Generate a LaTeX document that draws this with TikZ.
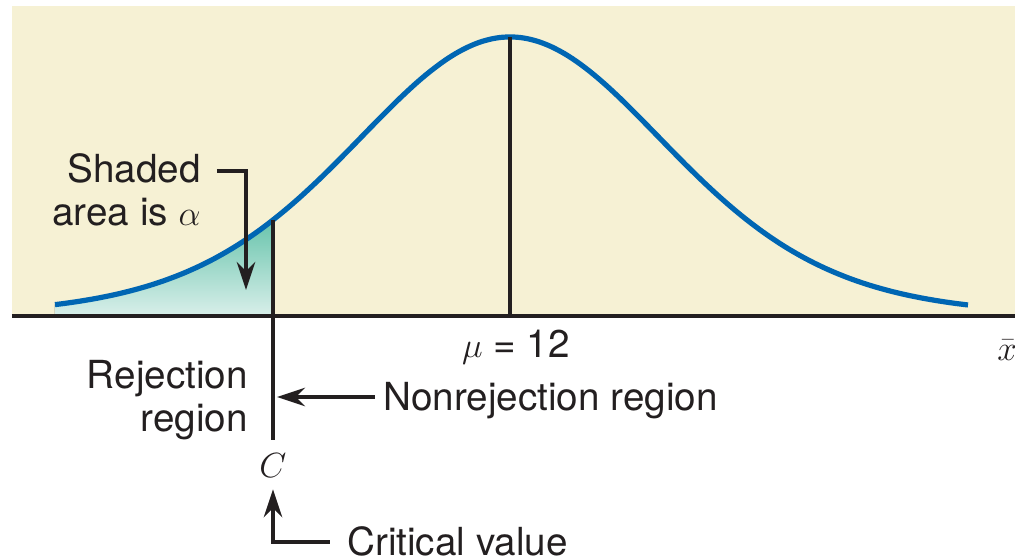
\documentclass[tikz,border=0pt]{standalone}
\usepackage{fontspec}
\setmainfont{TeX Gyre Heros}
\usetikzlibrary{arrows.meta}
\definecolor{paper}{RGB}{246,241,212}
\definecolor{curveblue}{RGB}{0,102,179}
\definecolor{tealtop}{RGB}{104,196,172}
\definecolor{tealbot}{RGB}{217,239,234}
\definecolor{ink}{RGB}{35,31,32}
\begin{document}
\begin{tikzpicture}[
  lbl/.style={font=\fontsize{27.5}{30.5}\selectfont, inner sep=0pt, text=ink},
  tag/.style={lbl, text height=19.7pt, text depth=0pt},
  arr/.style={-{Stealth[length=0.7cm, width=0.46cm]}, line width=2.4pt, draw=ink},
  declare function={dens(\x)=6.975*(1+\x*\x/164)^(-5.5);}
]
\useasboundingbox (-12.75,-6.075) rectangle (12.625,7.9);
\fill[paper] (-12.45,0) rectangle (12.625,7.75);

% left tail (rejection area)
\fill[top color=tealtop, bottom color=tealbot] (-11.375,0) -- plot[domain=-11.375:-5.925, samples=60] (\x,{dens(\x)}) -- (-5.925,0) -- cycle;
\draw[curveblue, line width=3.7pt] plot[domain=-11.375:11.45, samples=150, smooth] (\x,{dens(\x)});

\coordinate (peak) at (0,6.975);
\coordinate (cut) at (-5.925,{dens(-5.925)});
\coordinate (bend) at (-6.6,3.625);
\coordinate (tip) at (-6.6,0.65);

\draw[ink, line width=3.1pt] (-12.45,0) -- (12.625,0);
\draw[ink, line width=2.4pt] (0,0) -- (peak);

\node[lbl, align=right, anchor=east, inner xsep=0.4cm] (shd) at (-7.325,3.16) {Shaded\\area is $\alpha$};
\node[tag, anchor=base] (mu) at (0.15,-1.05) {$\mu$ = 12};
\node[tag, anchor=base west] (xbar) at (12.175,-1.1) {$\bar{x}$};
\node[lbl, align=right, anchor=east] (rej) at (-6.55,-2.1) {Rejection\\region};
\node[tag, anchor=west, inner xsep=0.2cm] (non) at (-3.375,-2.025) {Nonrejection region};
\node[lbl, anchor=base, text height=0.625cm, text depth=0pt, inner sep=0.3cm] (cval) at (-5.925,-4.025) {$C$};
\node[tag, anchor=west, inner xsep=0.425cm] (crit) at (-4.5,-5.65) {Critical value};

\draw[ink, line width=2.4pt] (cut) -- (cval.north);
\draw[arr] (shd.east |- bend) -- (bend) -- (tip);
\draw[arr] (non.west) -- ([xshift=0.1cm]cval.north |- non.west);
\draw[arr] (crit.west) -| (cval.south);
\end{tikzpicture}
\end{document}
